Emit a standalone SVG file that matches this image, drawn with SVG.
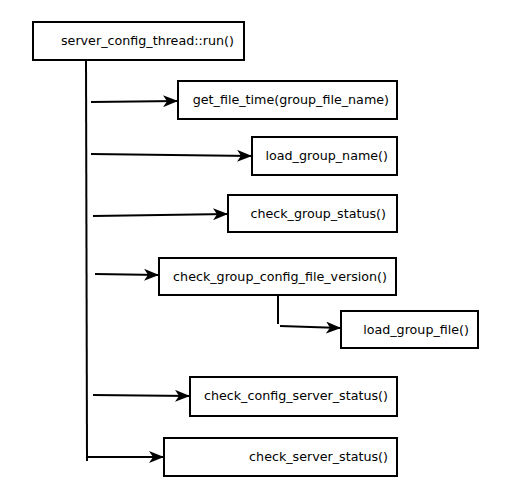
<svg xmlns="http://www.w3.org/2000/svg" width="510" height="501" viewBox="0 0 510 501">
<style>
.box{fill:#fff;stroke:#000;stroke-width:2}
.lbl{font-family:"DejaVu Sans",sans-serif;font-size:12.7px;fill:#000;text-anchor:end}
.ln{stroke:#000;stroke-width:2;fill:none}
.ar{stroke:#000;stroke-width:2;fill:none;marker-end:url(#ah)}
</style>
<defs>
<marker id="ah" markerUnits="userSpaceOnUse" markerWidth="16" markerHeight="12" refX="15" refY="6" orient="auto">
<path d="M0,0 L15,6 L0,12 L4,6 Z" fill="#000"/>
</marker>
</defs>
<rect width="510" height="501" fill="#fff"/>
<g id="connectors">
<path class="ln" d="M86,60 L87,461"/>
<path class="ar" d="M91,102 L178,101"/>
<path class="ar" d="M91,154 L252,156"/>
<path class="ar" d="M93,216 L228,214"/>
<path class="ar" d="M95,274 L159,275"/>
<path class="ln" d="M278,296 L278,324"/>
<path class="ar" d="M280,326 L341,328"/>
<path class="ar" d="M93,395 L190,396"/>
<path class="ar" d="M88,457 L164,457"/>
</g>
<g id="run"><rect class="box" x="33" y="22" width="211" height="38"/><text class="lbl" x="234" y="45">server_config_thread::run()</text></g>
<g id="get_file_time"><rect class="box" x="178" y="81" width="219" height="38"/><text class="lbl" x="389" y="104">get_file_time(group_file_name)</text></g>
<g id="load_group_name"><rect class="box" x="252" y="137" width="145" height="38"/><text class="lbl" x="388" y="160">load_group_name()</text></g>
<g id="check_group_status"><rect class="box" x="228" y="195" width="169" height="37"/><text class="lbl" x="386" y="218">check_group_status()</text></g>
<g id="check_group_config_file_version"><rect class="box" x="159" y="258" width="237" height="37"/><text class="lbl" x="387" y="281">check_group_config_file_version()</text></g>
<g id="load_group_file"><rect class="box" x="341" y="311" width="137" height="37"/><text class="lbl" x="469" y="334">load_group_file()</text></g>
<g id="check_config_server_status"><rect class="box" x="190" y="377" width="207" height="39"/><text class="lbl" x="388" y="400">check_config_server_status()</text></g>
<g id="check_server_status"><rect class="box" x="164" y="438" width="233" height="38"/><text class="lbl" x="388" y="461">check_server_status()</text></g>
</svg>
